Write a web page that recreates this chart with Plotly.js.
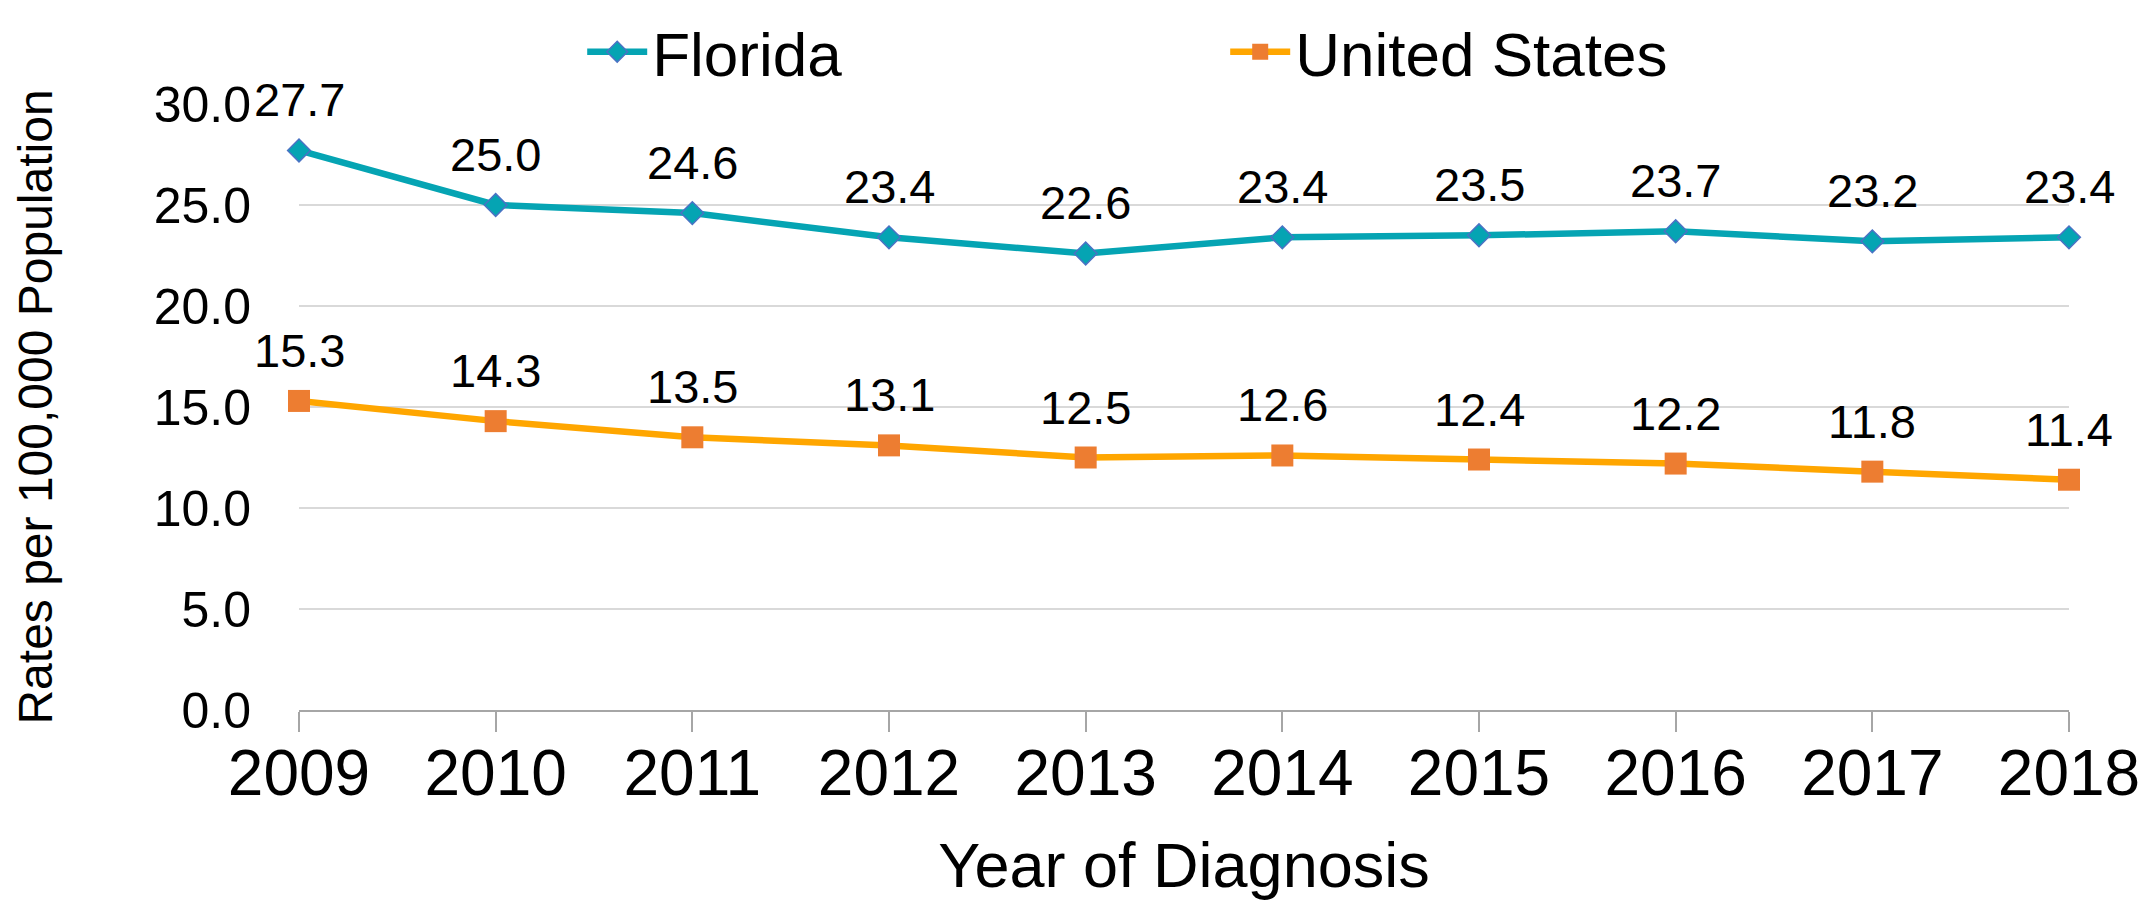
<!DOCTYPE html>
<html>
<head>
<meta charset="utf-8">
<script src="https://cdn.plot.ly/plotly-3.0.1.min.js"></script>
<style>html,body{margin:0;padding:0;background:#fff;}#chart{width:2149px;height:900px;}</style>
</head>
<body>
<div id="chart"></div>
<script>
const years = [2009, 2010, 2011, 2012, 2013, 2014, 2015, 2016, 2017, 2018];
const florida = [27.7, 25.0, 24.6, 23.4, 22.6, 23.4, 23.5, 23.7, 23.2, 23.4];
const unitedStates = [15.3, 14.3, 13.5, 13.1, 12.5, 12.6, 12.4, 12.2, 11.8, 11.4];
const yTicks = [0, 5, 10, 15, 20, 25, 30];

const FONT = 'Liberation Sans, Arial, sans-serif';

const traces = [
  {
    x: years, y: florida, name: 'Florida', type: 'scatter', mode: 'lines+markers',
    cliponaxis: false,
    line: {color: '#05A4B3', width: 6.5},
    marker: {symbol: 'diamond', size: 17.5, color: '#05A4B3', line: {color: '#4A72C4', width: 1.5}}
  },
  {
    x: years, y: unitedStates, name: 'United States', type: 'scatter', mode: 'lines+markers',
    cliponaxis: false,
    line: {color: '#FFA600', width: 6.5},
    marker: {symbol: 'square', size: 22, color: '#ED7D31', line: {color: '#ED7D31', width: 0}}
  }
];

const annotations = [];
[florida, unitedStates].forEach(series => {
  series.forEach((v, i) => {
    annotations.push({
      x: years[i], y: v, xref: 'x', yref: 'y', text: v.toFixed(1),
      showarrow: false, yanchor: 'bottom', xanchor: 'center', yshift: 22,
      font: {family: FONT, size: 47, color: '#000'}
    });
  });
});

const layout = {
  width: 2149, height: 900,
  margin: {l: 299, r: 80, t: 104, b: 190, autoexpand: false},
  paper_bgcolor: '#fff', plot_bgcolor: '#fff',
  font: {family: FONT, color: '#000'},
  showlegend: true,
  legend: {
    orientation: 'h', x: 0.16, xanchor: 'left', y: 1.1635, yanchor: 'top',
    font: {family: FONT, size: 62, color: '#000'},
    itemwidth: 60, entrywidth: 568, bgcolor: 'rgba(0,0,0,0)', borderwidth: 0
  },
  xaxis: {
    type: 'linear', range: [2009, 2018], tickvals: years, ticktext: years.map(String),
    showgrid: false, zeroline: false,
    showline: true, linecolor: '#A6A6A6', linewidth: 2,
    ticks: 'outside', ticklen: 20, tickwidth: 2, tickcolor: '#A6A6A6',
    ticklabelstandoff: -14,
    tickfont: {family: FONT, size: 64, color: '#000'},
    title: {text: 'Year of Diagnosis', font: {family: FONT, size: 63, color: '#000'}, standoff: 39}
  },
  yaxis: {
    range: [0, 30], tickvals: yTicks, tickformat: '.1f',
    showgrid: true, gridcolor: '#D9D9D9', gridwidth: 2, zeroline: false,
    showline: false, ticks: '', ticklabelstandoff: 47,
    tickfont: {family: FONT, size: 50, color: '#000'},
    title: {text: 'Rates per 100,000 Population', font: {family: FONT, size: 48, color: '#000'}, standoff: 85}
  },
  annotations: annotations
};

Plotly.newPlot('chart', traces, layout, {displayModeBar: false, staticPlot: true});
</script>
</body>
</html>
